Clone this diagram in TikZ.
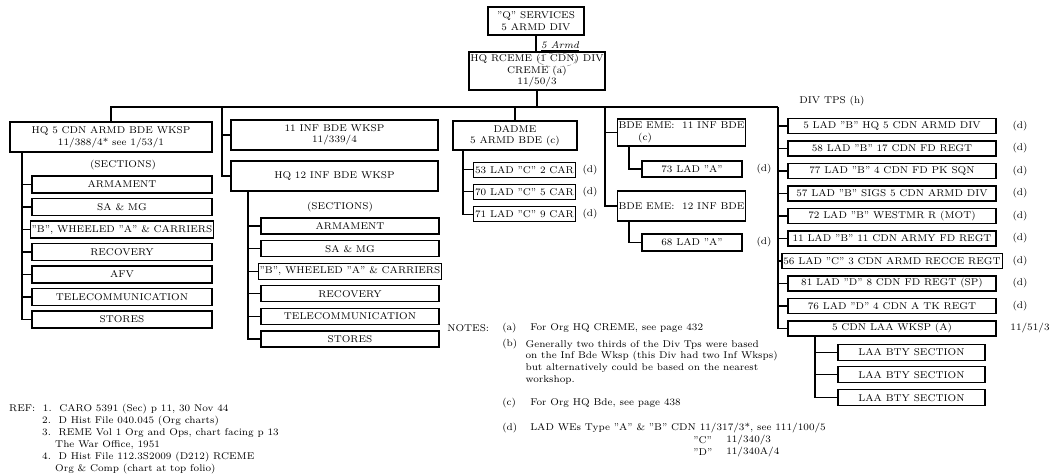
\documentclass[tikz,border=0pt]{standalone}
\usepackage{tikz}

\begin{document}
\begin{tikzpicture}[x=0.025cm, y=-0.025cm, line width=0.8pt,
	every node/.style={font=\fontsize{7}{8.2}\selectfont},
	box/.style 2 args={draw, inner sep=1pt, align=center, minimum width=#1*0.025cm, minimum height=#2*0.025cm}]
	\useasboundingbox (0,0) rectangle (1056,474);

	% top of the chart
	\node[box={96}{28}] (qsvc) at (536,21) {"Q" SERVICES\\5 ARMD DIV};
	\node[box={136}{38}] (rceme) at (537,71) {HQ RCEME (1 CDN) DIV\\CREME (a)\\11/50/3};
	\node[font=\fontsize{7}{8}\itshape] (armd) at (560,46) {\underline{5 Armd}};
	\draw[line width=0.3pt, gray, densely dashed] (557,60) ellipse [x radius=19, y radius=7];
	\draw (qsvc.south) -- (qsvc.south |- rceme.north);

	\coordinate (busR) at (778,107);
	\coordinate (infbus) at (222,107);
	\coordinate (emebus) at (605,107);

	% brigade workshops and staffs
	\node[box={202}{30}] (hq5) at (111,137) {HQ 5 CDN ARMD BDE WKSP\\11/388/4* see 1/53/1};
	\node[box={207}{30}] (inf11) at (334.5,135) {11 INF BDE WKSP\\11/339/4};
	\node[box={207}{30}] (hq12) at (334.5,176) {HQ 12 INF BDE WKSP};
	\node[box={124}{29}] (dadme) at (515,135.5) {DADME\\5 ARMD BDE (c)};
	\node[box={127}{27}, align=left] (eme11) at (681.5,132.5) {BDE EME:~~11 INF BDE\\\hspace*{14pt}(c)};
	\node[box={127}{30}] (eme12) at (681.5,206) {BDE EME:~~12 INF BDE};
	\node[box={100}{16}] (lad73) at (692,169) {73 LAD "A"};
	\node[box={100}{17}] (lad68) at (692,242.5) {68 LAD "A"};
	\node (dlad73) at (764,169) {(d)};
	\node (dlad68) at (764,242.5) {(d)};

	\draw (rceme.south) -- (rceme.south |- busR);
	\draw (hq5.north) |- (busR);
	\draw (dadme.north) -- (dadme.north |- busR);
	\draw (infbus) |- (inf11.west);
	\draw (infbus) |- (hq12.west);
	\draw (emebus) |- (eme11.west);
	\draw (emebus) |- (eme12.west);

	\coordinate (emeone) at (629,146);
	\coordinate (emetwo) at (629,221);
	\draw (emeone) |- (lad73.west);
	\draw (emetwo) |- (lad68.west);

	% sections
	\node (secta) at (123,165) {(SECTIONS)};
	\foreach \t [count=\i] in {ARMAMENT, SA \& MG, {"B", WHEELED "A" \& CARRIERS}, RECOVERY, AFV, TELECOMMUNICATION, STORES}
		\node[box={180}{17}] (a\i) at (122,162+22.5*\i) {\t};
	\coordinate (hqfive) at (22,152);
	\foreach \i in {1,...,7}
		\draw (hqfive) |- (a\i.west);

	\node (sectb) at (340,207) {(SECTIONS)};
	\foreach \t [count=\i] in {ARMAMENT, SA \& MG, {"B", WHEELED "A" \& CARRIERS}, RECOVERY, TELECOMMUNICATION, STORES}
		\node[box={178}{16}] (b\i) at (350,203.4+22.6*\i) {\t};
	\coordinate (hqtwelve) at (248,191);
	\foreach \i in {1,...,6}
		\draw (hqtwelve) |- (b\i.west);

	\foreach \nr/\car [count=\i] in {53/2, 70/5, 71/9} {
		\node[box={101}{15}] (d\i) at (524.5,147.5+22.2*\i) {\nr{} LAD "C" \car{} CAR};
		\node (dd\i) at (590,147.5+22.2*\i) {(d)};
	}
	\coordinate (dadmev) at (463,150);
	\foreach \i in {1,2,3}
		\draw (dadmev) |- (d\i.west);

	% div troops
	\node (divtps) at (832,101) {DIV TPS (h)};
	\foreach \t [count=\i] in {5 LAD "B" HQ 5 CDN ARMD DIV, 58 LAD "B" 17 CDN FD REGT, 77 LAD "B" 4 CDN FD PK SQN,
		57 LAD "B" SIGS 5 CDN ARMD DIV, 72 LAD "B" WESTMR R (MOT), 11 LAD "B" 11 CDN ARMY FD REGT,
		56 LAD "C" 3 CDN ARMD RECCE REGT, 81 LAD "D" 8 CDN FD REGT (SP), 76 LAD "D" 4 CDN A TK REGT, 5 CDN LAA WKSP (A)}
		\node[box={208}{15}] (t\i) at (892,103.5+22.5*\i) {\t};
	\foreach \i in {1,...,9}
		\node (dt\i) at (1020,103.5+22.5*\i) {(d)};
	\node (laawe) at (1030,328.5) {11/51/3};
	\foreach \i in {1,...,10}
		\draw (busR) |- (t\i.west);

	\foreach \i in {1,2,3}
		\node[box={147}{16}] (l\i) at (911.5,329.5+22.7*\i) {LAA BTY SECTION};
	\coordinate (laav) at (815,336);
	\foreach \i in {1,2,3}
		\draw (laav) |- (l\i.west);

	% notes
	\node[anchor=west] (notes) at (442,328) {NOTES:};
	\node[anchor=west] (na) at (497,328) {(a)};
	\node[anchor=west] (ta) at (525,328) {For Org HQ CREME, see page 432};
	\node[anchor=west] (nb) at (497,344) {(b)};
	\node[anchor=north west, align=left, inner sep=0pt, font=\fontsize{7}{8.5}\selectfont] (tb) at (525,339.5)
		{Generally two thirds of the Div Tps were based\\on the Inf Bde Wksp (this Div had two Inf Wksps)\\but alternatively could be based on the nearest\\workshop.};
	\node[anchor=west] (nc) at (497,403) {(c)};
	\node[anchor=west] (tc) at (525,403) {For Org HQ Bde, see page 438};
	\node[anchor=west] (nd) at (497,428) {(d)};
	\node[anchor=west] (td) at (525,428) {LAD WEs Type "A" \& "B" CDN 11/317/3*, see 111/100/5};
	\node[anchor=west] (tdc) at (688,440) {"C"};
	\node[anchor=west] (tdcwe) at (721,440) {11/340/3};
	\node[anchor=west] (tdd) at (688,452) {"D"};
	\node[anchor=west] (tddwe) at (721,452) {11/340A/4};

	% references
	\node[anchor=west] (ref) at (4,409) {REF:~~1.~~CARO 5391 (Sec) p 11, 30 Nov 44};
	\node[anchor=west] (refb) at (37,421) {2.~~D Hist File 040.045 (Org charts)};
	\node[anchor=west] (refc) at (37,433) {3.~~REME Vol 1 Org and Ops, chart facing p 13};
	\node[anchor=west] (refcc) at (50,445) {The War Office, 1951};
	\node[anchor=west] (refd) at (37,457) {4.~~D Hist File 112.3S2009 (D212) RCEME};
	\node[anchor=west] (refdd) at (50,469) {Org \& Comp (chart at top folio)};
\end{tikzpicture}
\end{document}
